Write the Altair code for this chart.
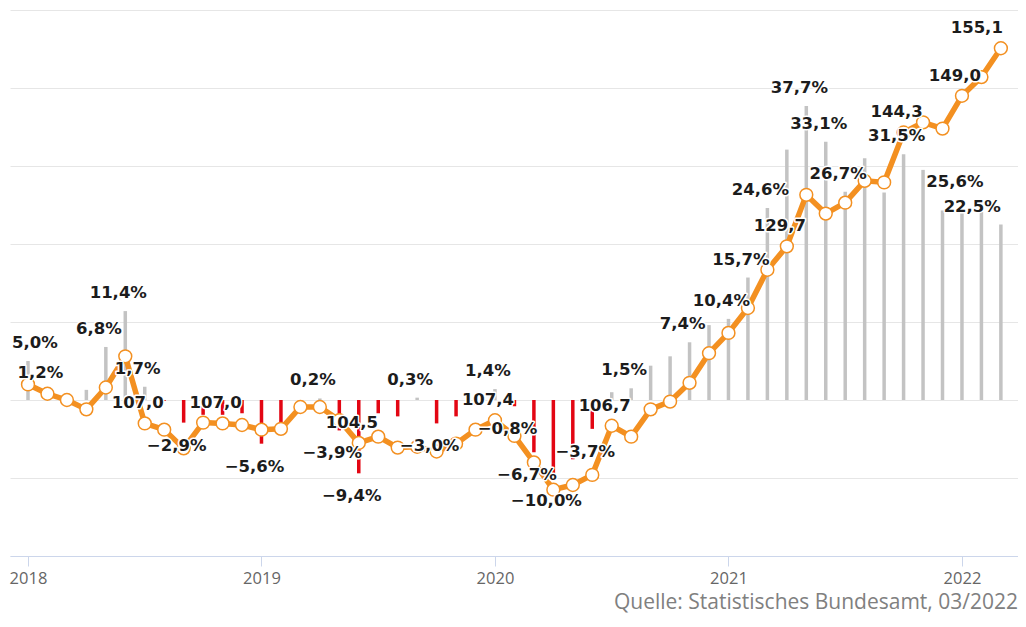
import altair as alt
import pandas as pd

# ---------------- data ----------------
months = list(range(51))            # 0 = Jan 2018 ... 50 = Mar 2022
index_values = [
    112.0, 110.8, 110.0, 108.8, 111.6, 115.6, 107.0, 106.2, 103.8, 107.1, 107.0, 106.8,
    106.2, 106.3, 109.1, 109.1, 107.4, 104.5, 105.3, 103.9, 104.0, 103.4, 104.4, 106.2,
    107.4, 105.4, 102.0, 98.5, 99.1, 100.4, 106.7, 105.3, 108.8, 109.8, 112.2, 116.0,
    118.6, 121.8, 126.7, 129.7, 136.3, 133.9, 135.3, 138.1, 137.9, 144.3, 145.6, 144.8,
    149.0, 151.4, 155.1,
]
yoy_pct = [
    5.0, 1.2, 0.4, 1.3, 6.8, 11.4, 1.7, -0.1, -2.9, -1.9, -1.9, -1.7,
    -5.6, -3.2, -0.8, 0.2, -3.9, -9.4, -1.7, -2.1, 0.3, -3.0, -2.1, -0.6,
    1.4, -0.8, -6.7, -10.0, -7.6, -3.7, 1.0, 1.5, 4.4, 5.6, 7.4, 9.6,
    10.4, 15.7, 24.6, 32.1, 37.7, 33.1, 26.7, 31.0, 26.6, 31.5, 29.5, 24.3,
    25.6, 24.1, 22.5,
]
pct_label_months = [0, 1, 4, 5, 6, 8, 12, 15, 16, 17, 20, 21, 24, 25, 26, 27, 29,
                    31, 34, 36, 37, 38, 40, 41, 42, 45, 48, 50]
idx_label_months = [6, 10, 17, 24, 30, 39, 45, 48, 50]
first_month, last_month = 0, 50      # labels justified inside the plot edges
year_ticks = [0, 12, 24, 36, 48]
first_year = 2018
source_text = "Quelle: Statistisches Bundesamt, 03/2022"

# ---------------- styles ----------------
ORANGE = "#F39021"
GREY_BAR = "#c3c3c3"
RED_BAR = "#e30613"
TEXT = "#1c1c1c"
LABEL_SIZE = 16.5

df = pd.DataFrame({"m": months, "idx": index_values, "pct": yoy_pct})
df["pct_lab"] = df["m"].isin(pct_label_months)
df["idx_lab"] = df["m"].isin(idx_label_months)

xs = alt.Scale(domain=[-0.925, 50.88], nice=False, zero=False, padding=0)
pct_scale = alt.Scale(domain=[-20, 50], nice=False, zero=False)
idx_scale = alt.Scale(domain=[90, 160], nice=False, zero=False)

x_axis = alt.Axis(
    values=year_ticks,
    labelExpr=f"'' + ({first_year} + datum.value / 12)",
    grid=False, title=None,
    domainColor="#ccd6eb", domainWidth=1,
    tickColor="#ccd6eb", tickSize=10, tickWidth=1,
    labelFont="Open Sans", labelFontSize=16.5, labelColor="#666666",
    labelPadding=4, labelFlush=False,
)
X = alt.X("m:Q", scale=xs, axis=x_axis)

base = alt.Chart(df)

bars = base.mark_bar(width=3.5).encode(
    x=X,
    y=alt.Y("pct:Q", scale=pct_scale,
            axis=alt.Axis(values=list(range(-20, 51, 10)), grid=True, gridColor="#e6e6e6",
                          gridWidth=1, labels=False, ticks=False, domain=False, title=None)),
    y2=alt.datum(0),
    color=alt.condition("datum.pct < 0", alt.value(RED_BAR), alt.value(GREY_BAR)),
)

line = base.mark_line(color=ORANGE, strokeWidth=5.5, strokeJoin="round").encode(
    x=X, y=alt.Y("idx:Q", scale=idx_scale, axis=None)
)

points = base.mark_point(shape="circle", filled=True, fill="white", stroke=ORANGE,
                         strokeWidth=1.5, size=165, opacity=1).encode(
    x=X, y=alt.Y("idx:Q", scale=idx_scale, axis=None)
)

PCT_TXT = "replace(replace(format(datum.pct, '.1f'), '.', ','), '-', '\u2212') + '%'"
IDX_TXT = "replace(format(datum.idx, '.1f'), '.', ',')"


def label_layers(filter_expr, field, scale, text_expr, dy, align="center", dx=-7):
    src = base.transform_filter(filter_expr).transform_calculate(lab=text_expr)
    enc = dict(x=X, y=alt.Y(f"{field}:Q", scale=scale, axis=None), text="lab:N")
    common = dict(font="DejaVu Sans", fontSize=LABEL_SIZE, fontWeight="bold",
                  align=align, baseline="middle", dx=dx, dy=dy)
    outline = src.mark_text(fill="white", stroke="white", strokeWidth=3,
                            strokeJoin="round", **common).encode(**enc)
    fill = src.mark_text(fill=TEXT, **common).encode(**enc)
    return [outline, fill]


inner = f"datum.m > {first_month} && datum.m < {last_month}"
layers = [bars, line, points]
# percentage labels
layers += label_layers(f"datum.pct_lab && datum.pct >= 0 && {inner}", "pct", pct_scale, PCT_TXT, dy=-18)
layers += label_layers(f"datum.pct_lab && datum.pct < 0", "pct", pct_scale, PCT_TXT, dy=23)
layers += label_layers(f"datum.pct_lab && datum.pct >= 0 && datum.m <= {first_month}", "pct", pct_scale,
                       PCT_TXT, dy=-18, align="left", dx=-16)
layers += label_layers(f"datum.pct_lab && datum.pct >= 0 && datum.m >= {last_month}", "pct", pct_scale,
                       PCT_TXT, dy=-18, align="right", dx=0)
# index labels
layers += label_layers(f"datum.idx_lab && datum.m < {last_month}", "idx", idx_scale, IDX_TXT, dy=-20)
layers += label_layers(f"datum.idx_lab && datum.m >= {last_month}", "idx", idx_scale, IDX_TXT,
                       dy=-20, align="right", dx=2)

chart = (
    alt.layer(*layers)
    .resolve_scale(y="independent")
    .properties(
        width=1008, height=546,
        autosize=alt.AutoSizeParams(type="none"),
        padding={"left": 2, "top": 2, "right": 0, "bottom": 59},
        title=alt.TitleParams(source_text, orient="bottom", anchor="end",
                              font="Open Sans", fontSize=21, fontWeight="normal",
                              color="#808080", baseline="alphabetic", offset=22),
    )
    .configure_view(strokeWidth=0)
)

chart.save("out.html", embed_options={"renderer": "svg", "actions": False})
